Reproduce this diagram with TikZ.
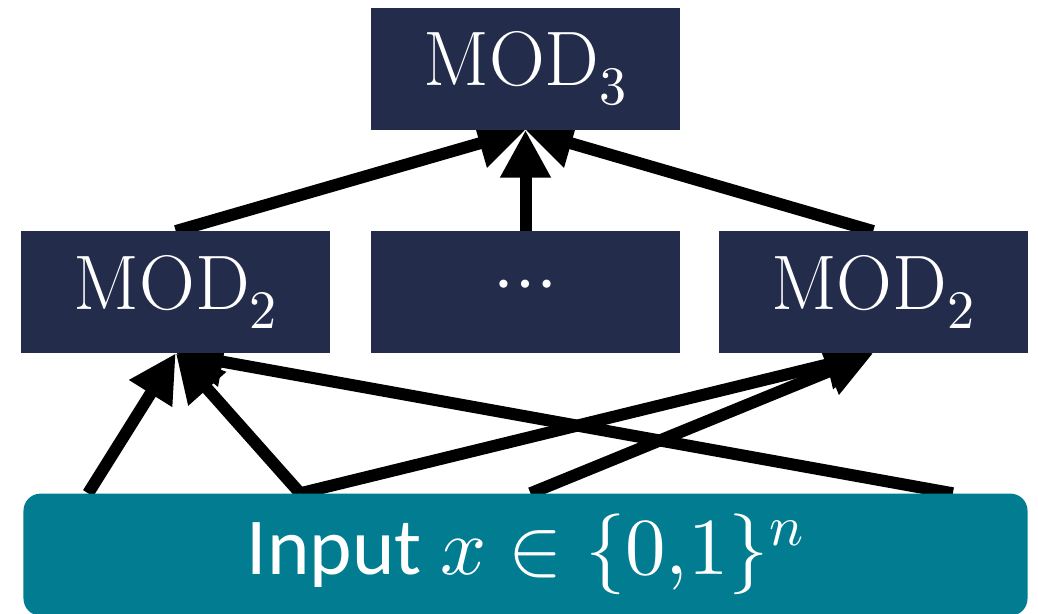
\documentclass[tikz,border=0pt]{standalone}
\usepackage{fontspec}
\usepackage{unicode-math}
\usepackage{xcolor}
\usepackage{tikz}
\usetikzlibrary{arrows.meta,positioning,backgrounds}

\setmathfont{Latin Modern Math}
\newfontfamily\calibri{Carlito}
\definecolor{navy}{HTML}{242C4C}
\definecolor{teal}{HTML}{017C91}

\begin{document}
\begin{tikzpicture}[
			node distance=2.02cm and 0.8cm,
			mod/.style={rectangle, fill=navy, text=white, minimum width=6.18cm, minimum height=2.43cm, inner sep=0pt, font=\fontsize{44}{50}\selectfont},
			inbox/.style={rectangle, rounded corners=0.34cm, fill=teal, text=white, minimum width=20.08cm, minimum height=2.44cm, inner sep=0pt, font=\calibri\fontsize{46}{52}\selectfont},
			>={Triangle[length=0.95cm, width=0.95cm]},
			wire/.style={->, line width=0.24cm}
			]
			\useasboundingbox (0,0) rectangle (20.76,12.28);
			
			% Camadas de MOD
			\node[mod] (top) at (10.51,10.9) {$\mathrm{MOD}_3$};
			\node[mod] (dots) [below=of top] {$\cdots$};
			\node[mod] (left) [left=0.8cm of dots] {$\mathrm{MOD}_2$};
			\node[mod] (right) [right=0.76cm of dots] {$\mathrm{MOD}_2$};
			
			% Entrada
			\node[inbox] (in) [below=2.8cm of dots] {Input $x\in\{0{,}1\}^n$};
			
			% Pontos de saida na entrada
			\coordinate[xshift=1.3cm] (s1) at (in.north west);
			\coordinate[xshift=5.54cm] (s2) at (in.north west);
			\coordinate[xshift=0.1cm] (s3) at (in.north);
			\coordinate[xshift=-1.5cm] (s4) at (in.north east);
			
			\begin{scope}[on background layer]
				% Arestas para MOD_3
				\draw[wire] (left.north) -- (top.south);
				\draw[wire] (dots.north) -- (top.south);
				\draw[wire] (right.north) -- (top.south);
				
				% Arestas da entrada
				\draw[wire] (s1) -- (left.south);
				\draw[wire] (s2) -- (left.south);
				\draw[wire] (s4) -- (left.south);
				\draw[wire] (s2) -- (right.south);
				\draw[wire] (s3) -- (right.south);
			\end{scope}
			
		\end{tikzpicture}
\end{document}
